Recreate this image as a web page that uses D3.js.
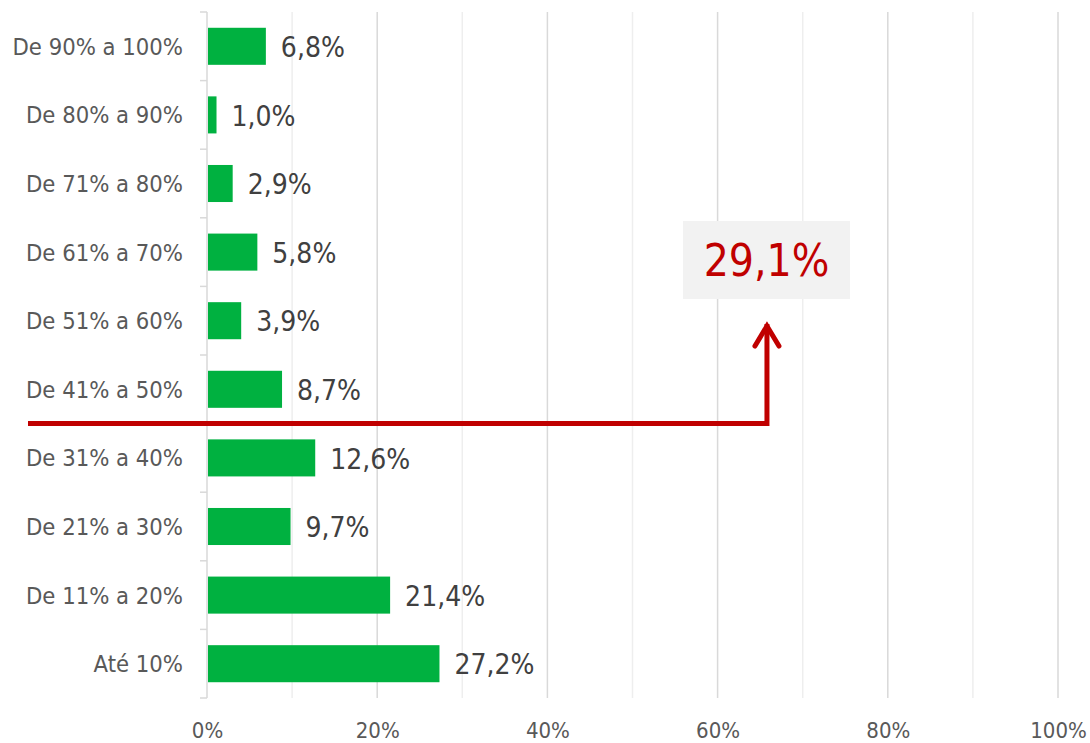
<!DOCTYPE html>
<html>
<head>
<meta charset="utf-8">
<script src="https://cdn.jsdelivr.net/npm/d3@7"></script>
<style>
  body { margin: 0; background: #fff; }
  svg text { font-family: "DejaVu Sans Condensed", "DejaVu Sans", sans-serif; }
</style>
</head>
<body>
<div id="chart"></div>
<script>
// data (top to bottom)
const categories = ["De 90% a 100%", "De 80% a 90%", "De 71% a 80%", "De 61% a 70%", "De 51% a 60%",
  "De 41% a 50%", "De 31% a 40%", "De 21% a 30%", "De 11% a 20%", "Até 10%"];
const values = [6.8, 1.0, 2.9, 5.8, 3.9, 8.7, 12.6, 9.7, 21.4, 27.2];
const xTicks = [0, 20, 40, 60, 80, 100];
const gridTicks = [10, 20, 30, 40, 50, 60, 70, 80, 90, 100];
const highlight = [29.1];   // sum of the top six groups

const W = 1090, H = 743;
const plotL = 207, plotR = 1058, plotT = 12, plotB = 698;

const svg = d3.select("#chart").append("svg")
  .attr("width", W)
  .attr("height", H);

const x = d3.scaleLinear().domain([0, 100]).range([plotL, plotR]);
const y = d3.scaleBand().domain(categories).range([plotT, plotB]).paddingInner(0.46).paddingOuter(0.23);

const fmt = v => d3.format(".1f")(v).replace(".", ",") + "%";

// grid lines (every 10%, darker on the labelled ones)
svg.append("g").selectAll("line")
  .data(gridTicks)
  .enter().append("line")
  .attr("x1", d => x(d)).attr("x2", d => x(d))
  .attr("y1", plotT).attr("y2", plotB)
  .attr("stroke", d => d % 20 === 0 ? "#d9d9d9" : "#eeeeee")
  .attr("stroke-width", 1.5);

// x axis labels
const xAxis = d3.axisBottom(x).tickValues(xTicks).tickSize(0).tickPadding(24).tickFormat(d => d + "%");
const gx = svg.append("g").attr("transform", "translate(0," + plotB + ")").call(xAxis);
gx.select(".domain").remove();
gx.selectAll("text").attr("font-size", "22px").attr("fill", "#595959")
  .attr("font-family", "'DejaVu Sans Condensed', 'DejaVu Sans', sans-serif");

// y axis: vertical line, boundary ticks, labels
const step = y.step();
const bounds = d3.range(categories.length + 1).map(i => plotT + i * step);
svg.append("line")
  .attr("x1", plotL).attr("x2", plotL).attr("y1", plotT).attr("y2", plotB)
  .attr("stroke", "#d9d9d9").attr("stroke-width", 1.5);
svg.append("g").selectAll("line")
  .data(bounds)
  .enter().append("line")
  .attr("x1", plotL - 7).attr("x2", plotL)
  .attr("y1", d => d).attr("y2", d => d)
  .attr("stroke", "#d9d9d9").attr("stroke-width", 1.5);

svg.append("g").selectAll("text")
  .data(categories)
  .enter().append("text")
  .attr("x", plotL - 24)
  .attr("y", d => y(d) + y.bandwidth() / 2)
  .attr("dy", "0.36em")
  .attr("text-anchor", "end")
  .attr("font-size", "23.6px")
  .attr("fill", "#595959")
  .text(d => d);

// bars
svg.append("g").selectAll("rect")
  .data(values)
  .enter().append("rect")
  .attr("x", x(0) + 1)
  .attr("y", (d, i) => y(categories[i]))
  .attr("width", d => x(d) - x(0))
  .attr("height", y.bandwidth())
  .attr("fill", "#00b140");

// value labels
svg.append("g").selectAll("text")
  .data(values)
  .enter().append("text")
  .attr("x", d => x(d) + 16)
  .attr("y", (d, i) => y(categories[i]) + y.bandwidth() / 2)
  .attr("dy", "0.38em")
  .attr("font-size", "28px")
  .attr("fill", "#404040")
  .text(d => fmt(d));

// annotation: red elbow arrow from the 41-50 / 31-40 boundary
const red = "#c00000";
const lineY = bounds[6];
const arrowX = x(65.8);
const arrowTop = 324;
svg.append("path")
  .attr("d", "M28," + lineY + " H" + arrowX + " V" + arrowTop)
  .attr("fill", "none").attr("stroke", red).attr("stroke-width", 5);
svg.append("path")
  .attr("d", "M" + (arrowX - 12) + "," + (arrowTop + 22) + " L" + arrowX + "," + (arrowTop + 2) + " L" + (arrowX + 12) + "," + (arrowTop + 22))
  .attr("fill", "none").attr("stroke", red).attr("stroke-width", 5)
  .attr("stroke-linecap", "round").attr("stroke-linejoin", "miter");

const box = svg.append("g");
box.append("rect")
  .attr("x", 683).attr("y", 221).attr("width", 167).attr("height", 78)
  .attr("fill", "#f2f2f2");
box.selectAll("text")
  .data(highlight)
  .enter().append("text")
  .attr("x", 766.5).attr("y", 260)
  .attr("dy", "0.36em")
  .attr("text-anchor", "middle")
  .attr("font-size", "44px")
  .attr("fill", red)
  .text(d => fmt(d));
</script>
</body>
</html>
